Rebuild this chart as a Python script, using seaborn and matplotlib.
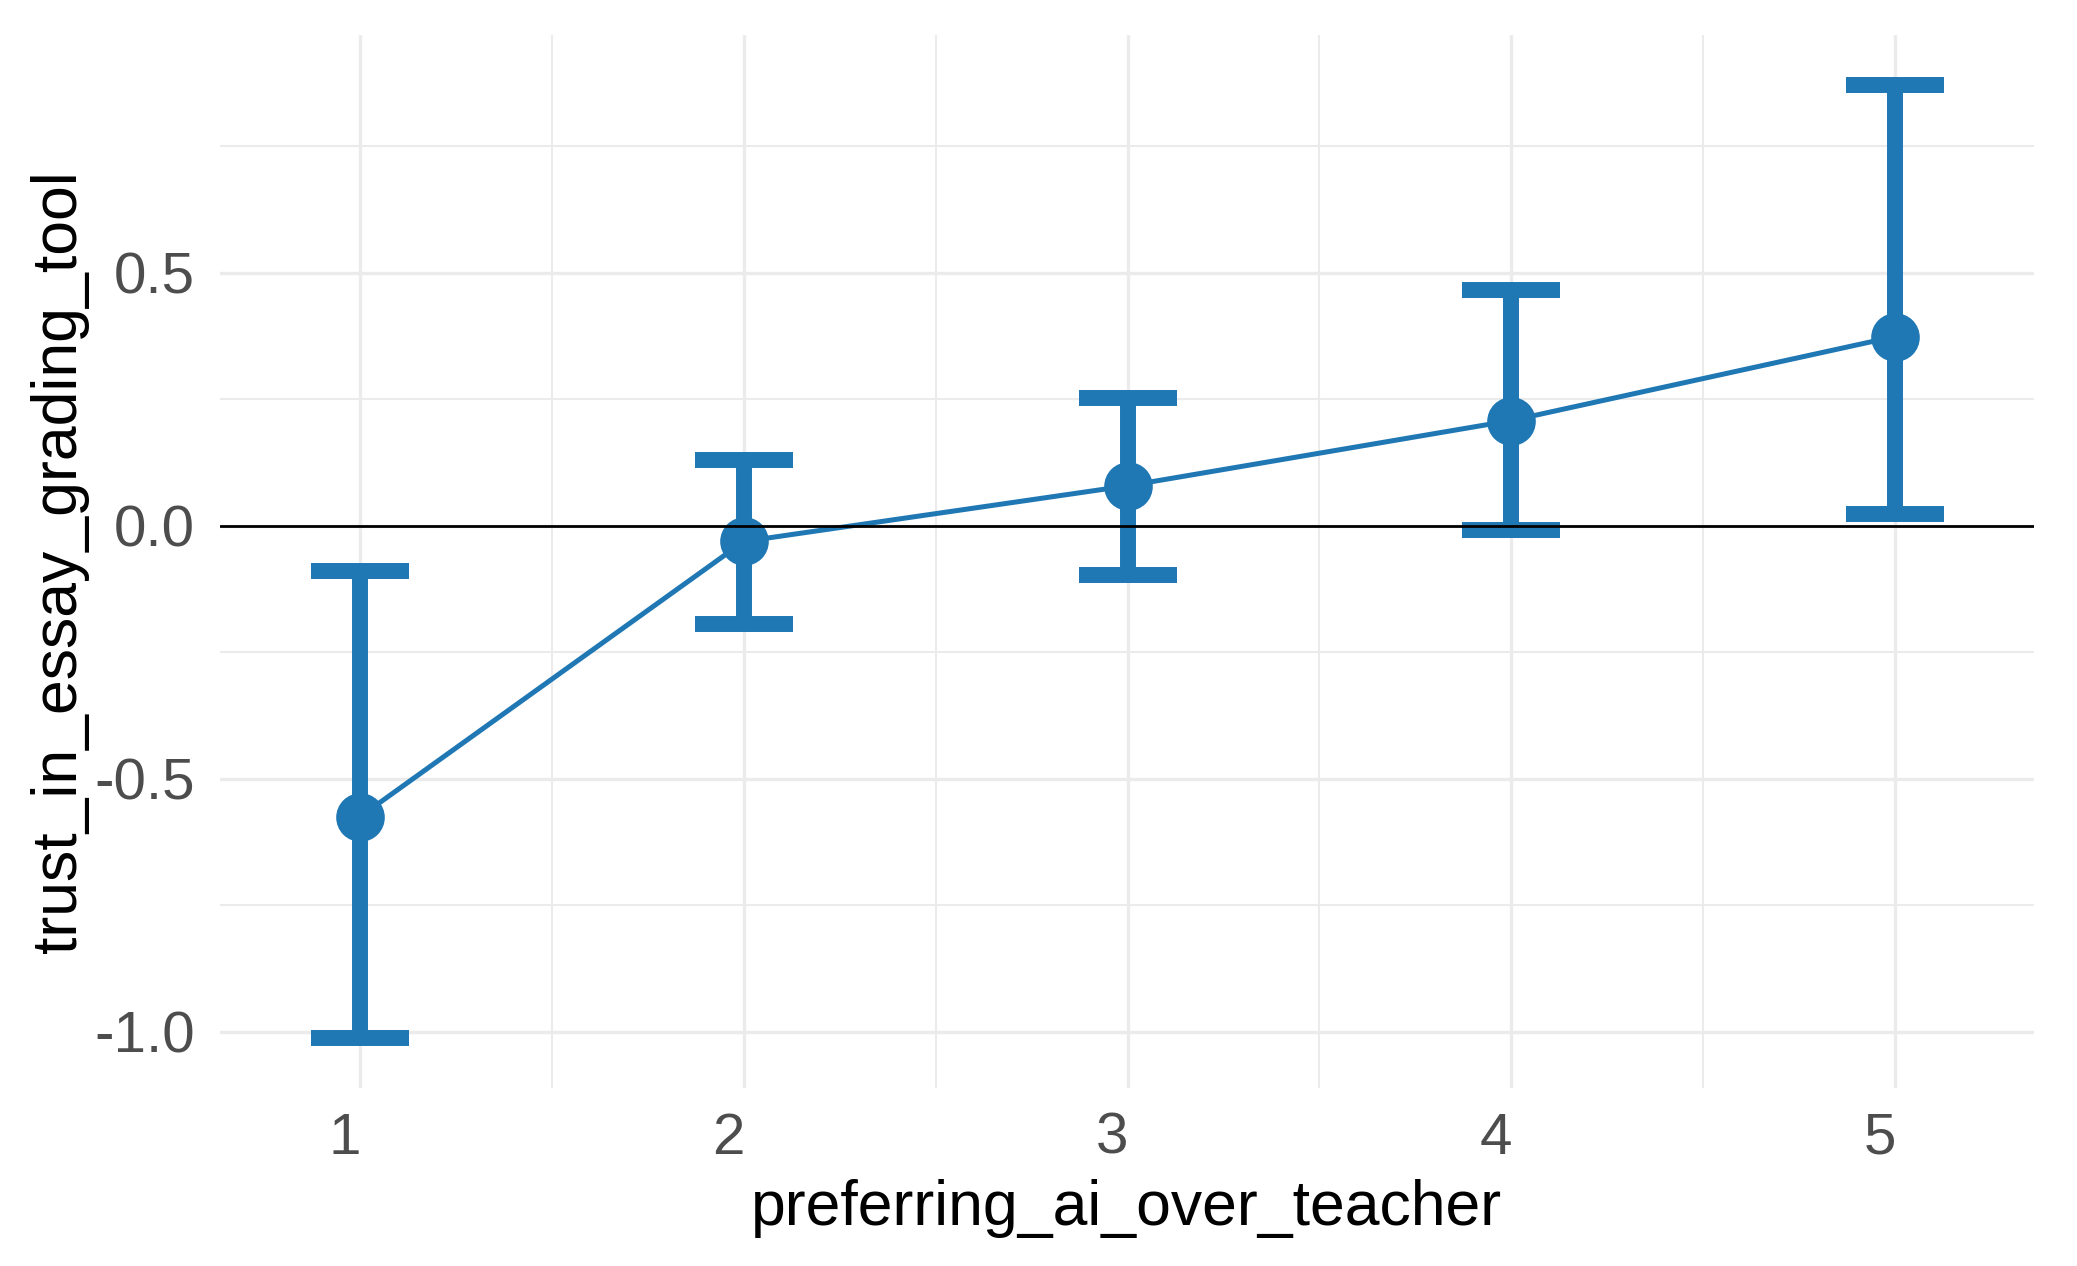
import numpy as np
import pandas as pd
import matplotlib
matplotlib.use('Agg')
import matplotlib.pyplot as plt
import matplotlib.transforms as mtransforms
import seaborn as sns
from matplotlib.ticker import MultipleLocator

# values
preference = [1, 2, 3, 4, 5]
trust_mean = [-0.575, -0.031, 0.079, 0.208, 0.374]
trust_low = [-1.013, -0.194, -0.097, -0.008, 0.024]
trust_high = [-0.089, 0.130, 0.253, 0.465, 0.872]

X_NAME = 'preferring_ai_over_teacher'
Y_NAME = 'trust_in_essay_grading_tool'
BLUE = '#1f77b4'

sns.set_theme(style='white')
plt.rcParams['font.family'] = ['Liberation Sans', 'DejaVu Sans']
plt.rcParams['axes.unicode_minus'] = False

df = pd.DataFrame({X_NAME: preference, Y_NAME: trust_mean,
                   'low': trust_low, 'high': trust_high})
yerr = np.vstack([df[Y_NAME] - df['low'], df['high'] - df[Y_NAME]])

fig, ax = plt.subplots(figsize=(20.77, 12.66), dpi=100)
fig.subplots_adjust(left=0.1059, right=0.9793, top=0.9724, bottom=0.1406)

# error bars, then line + points, then the zero reference line on top
ax.errorbar(df[X_NAME], df[Y_NAME], yerr=yerr, fmt='none', ecolor=BLUE,
            elinewidth=11.5, capsize=35, capthick=11.5, zorder=2)
sns.lineplot(data=df, x=X_NAME, y=Y_NAME, color=BLUE, linewidth=3.6,
             marker='o', markersize=35, markeredgewidth=0, ax=ax, zorder=3)
ax.axhline(0, color='black', linewidth=2, zorder=4)

ax.set_xlim(0.635, 5.362)
ax.set_ylim(-1.111, 0.970)
ax.xaxis.set_major_locator(MultipleLocator(1))
ax.xaxis.set_minor_locator(MultipleLocator(0.5))
ax.yaxis.set_major_locator(MultipleLocator(0.5))
ax.yaxis.set_minor_locator(MultipleLocator(0.25))
ax.grid(which='major', color='#EBEBEB', linewidth=2.4)
ax.grid(which='minor', color='#EBEBEB', linewidth=1.5)
ax.set_axisbelow(True)
for s in ax.spines.values():
    s.set_visible(False)

ax.tick_params(which='both', length=0, labelsize=42, labelcolor='#4D4D4D')
ax.tick_params(axis='x', pad=17)
ax.tick_params(axis='y', pad=18)

# x tick labels sit a little left of their gridlines in the reference
shift = mtransforms.ScaledTranslation(-15 / 100, 0, fig.dpi_scale_trans)
for lbl in ax.get_xticklabels():
    lbl.set_transform(lbl.get_transform() + shift)

ax.set_xlabel(X_NAME, fontsize=45, color='black', va='center')
ax.set_ylabel(Y_NAME, fontsize=45, color='black', va='center')
ax.xaxis.set_label_coords(0.5, -0.1149)
ax.yaxis.set_label_coords(-0.0886, 0.5)

plt.savefig('out.png', dpi=100)
